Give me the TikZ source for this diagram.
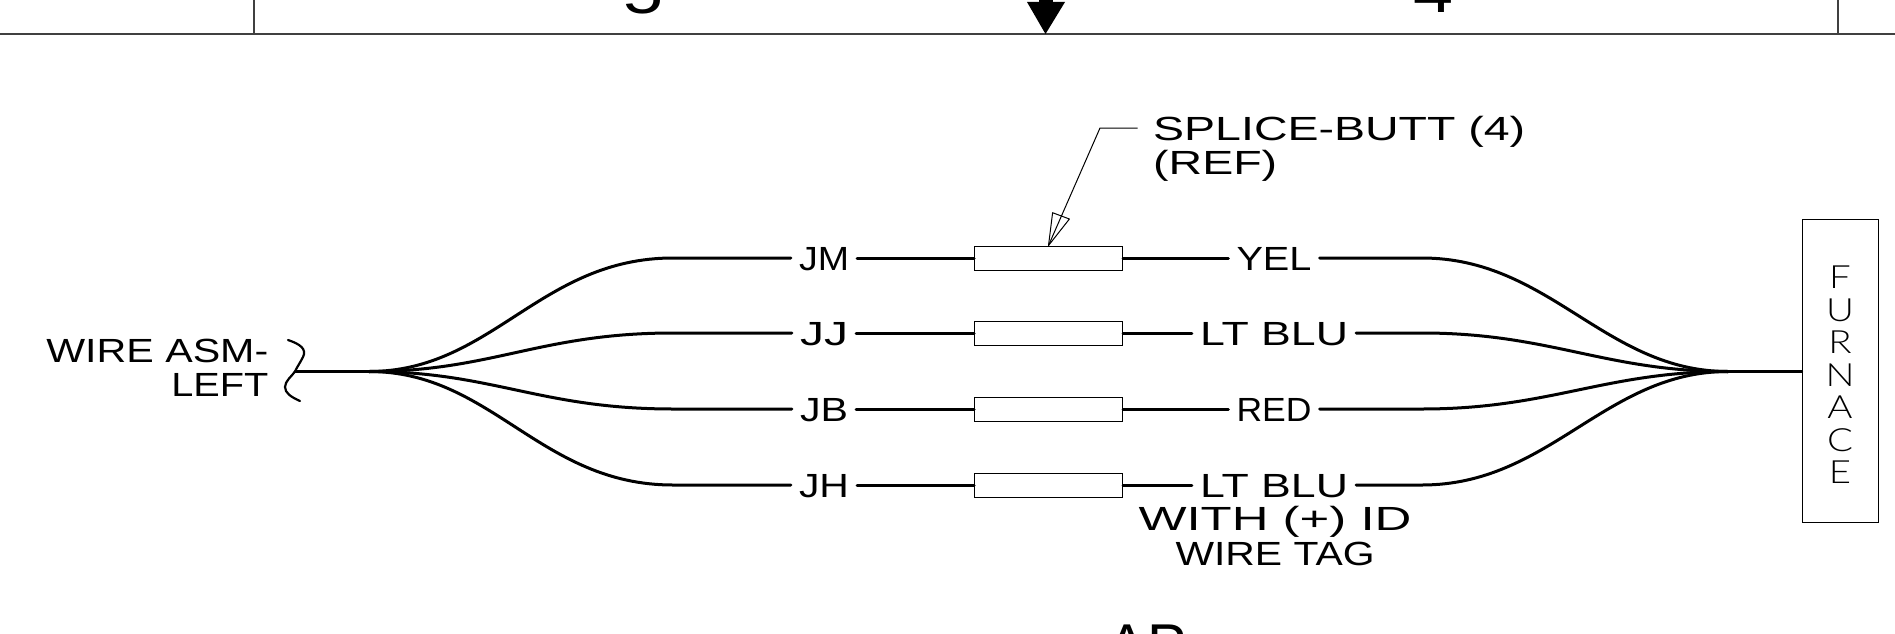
\documentclass[tikz,border=0pt]{standalone}
\usepackage{fontspec}
\usepackage{graphicx}
\setmainfont{Liberation Sans}
\newfontfamily\thinfont[FakeStretch=1.2]{Lato Light}
\newcommand\fw[2]{\resizebox{#1pt}{\height}{#2}}
\tikzset{
  wire/.style={line width=3pt,black,line cap=round},
  thin line/.style={line width=1pt,black},
  frame line/.style={line width=1.1pt,black!75},
  txt/.style={inner ysep=0pt,inner xsep=0pt,font=\fontsize{33.5}{34}\selectfont},
  wlabel/.style={txt,inner xsep=8pt,anchor=base},
  big/.style={inner sep=0pt,anchor=base,font=\fontsize{59}{59}\selectfont},
  splice/.style={draw,line width=1pt,fill=white,minimum width=148pt,minimum height=24pt,inner sep=0pt},
}
\begin{document}
\begin{tikzpicture}[x=1pt,y=-1pt]
\useasboundingbox (0,0) rectangle (1895,634);
\clip (0,0) rectangle (1895,634);
% frame
\coordinate (fl) at (0,34); \coordinate (fr) at (1895,34);
\coordinate (vl) at (254,0); \coordinate (vr) at (1838,0);
\draw[frame line] (fl) -- (fr);
\draw[frame line] (vl) -- (vl |- fl);
\draw[frame line] (vr) -- (vr |- fl);
\node[big] (zoneA) at (643,14) {\fw{40}{5}};
\node[big] (zoneB) at (1433,13) {\fw{40}{4}};
\fill (1039,0) rectangle (1053,3);
\fill (1027,2) -- (1065,2) -- (1045.5,34) -- cycle;
\node[big] (sheet) at (1147,665) {AP};
% hubs
\coordinate (hubL) at (369,371.5);
\coordinate (hubR) at (1728,371.5);
\node[draw,line width=1pt,minimum width=76pt,minimum height=303pt,inner sep=0pt] (furnace) at (1840,371) {};
\node[inner sep=0pt,align=center,font=\thinfont\fontsize{32}{32.5}\selectfont] (furnacetxt) at (1840,375) {F\\U\\R\\N\\A\\C\\E};
% wires
\foreach \n/\y/\ll/\lw/\rl/\rw in {
  1/258/JM/50/YEL/75,
  2/333/JJ/48/LT BLU/148,
  3/409/JB/48/RED/75,
  4/485/JH/50/LT BLU/148}{
  \coordinate (a\n) at (673,\y);
  \coordinate (b\n) at (1422,\y);
  \node[splice] (s\n) at (1048.5,\y) {};
  \node[wlabel] (l\n) at (824,\y+12) {\fw{\lw}{\ll}};
  \node[wlabel] (r\n) at (1274,\y+12) {\fw{\rw}{\rl}};
  \draw[wire] (hubL) .. controls (492,371.5) and (540,\y) .. (a\n) -- (a\n -| l\n.west);
  \draw[wire] (a\n -| l\n.east) -- (s\n.west);
  \draw[wire] (s\n.east) -- (b\n -| r\n.west);
  \draw[wire] (b\n -| r\n.east) -- (b\n) .. controls (1550,\y) and (1605,371.5) .. (hubR);
}
\draw[wire] (hubR) -- (furnace.west |- hubR);
% left lead
\coordinate (brace) at (295,371.5);
\draw[wire] (brace) -- (hubL);
\draw[line width=2.2pt,line cap=round] (288,340) .. controls (300,344) and (307,349) .. (303,357) .. controls (300,363) and (297,367) .. (brace) .. controls (292,376) and (285,381) .. (285,387) .. controls (285,393) and (291,397) .. (300,401);
\node[txt,anchor=base east] (wa) at (268.5,362) {\fw{222}{WIRE ASM-}};
\node[txt,anchor=base east] (wb) at (268.5,396) {\fw{97}{LEFT}};
% leader
\node[txt,anchor=base west] (sp1) at (1153,140) {\fw{372}{SPLICE-BUTT (4)}};
\node[txt,anchor=base west] (sp2) at (1153,174) {\fw{124}{(REF)}};
\coordinate (ldrA) at (1137.5,128);
\coordinate (ldrB) at (1100,128);
\draw[thin line] (ldrA) -- (ldrB) -- (s1.north);
\draw[thin line,line join=round] (s1.north) -- (1052.6,212.7) -- (1069.4,219) -- cycle;
% tag
\node[txt,anchor=base] (t1) at (1275,530) {\fw{273}{WITH (+) ID}};
\node[txt,anchor=base] (t2) at (1275,565) {\fw{199}{WIRE TAG}};
\end{tikzpicture}
\end{document}
